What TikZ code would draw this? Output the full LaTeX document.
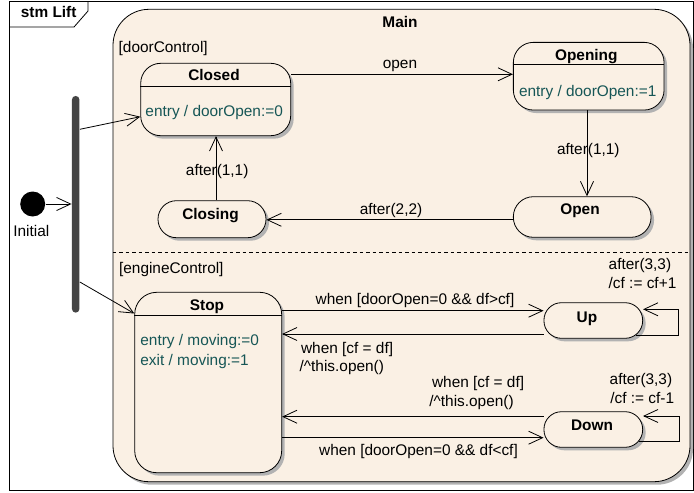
\documentclass[tikz,border=0pt]{standalone}
\usepackage{fontspec}
\setmainfont{Liberation Sans}
\usetikzlibrary{arrows.meta,shadows,calc}
\definecolor{cream}{RGB}{250,240,228}
\definecolor{tealtxt}{RGB}{22,86,86}
\definecolor{shade}{RGB}{178,178,178}
\definecolor{barcol}{RGB}{68,68,68}
\begin{document}
\begin{tikzpicture}[x=1pt,y=-1pt,
  font=\fontsize{15.4}{18}\selectfont,
  line width=0.8pt,
  >={Straight Barb[length=14pt,width=13pt,line width=0.8pt]},
  shad/.style={drop shadow={shadow xshift=3pt,shadow yshift=-3pt,fill=shade,opacity=1}},
  region/.style={draw,fill=cream,inner sep=0,shad},
  statebox/.style={draw,fill=cream,inner sep=0,shad},
  lbl/.style={inner sep=0,anchor=base},
  lblw/.style={inner sep=0,anchor=base west},
  ttl/.style={inner sep=0,anchor=base,font=\fontsize{15.4}{18}\selectfont\bfseries},
  act/.style={inner sep=0,text=tealtxt},
  conn/.style={->}
]
\useasboundingbox (0,0) rectangle (694,493);
% frame
\draw[line width=0.9pt] (9.5,1.3) rectangle (693,490.7);
\draw (9.5,27) -- (74,27) -- (88,11) -- (88,1.3);
\node[ttl] (frametitle) at (48.7,17.5) {stm Lift};

% Main region
\node[region,rounded corners=36pt,minimum width=577pt,minimum height=472.4pt] (main) at (401.5,245.5) {};
\node[ttl] (maintitle) at (400,27) {Main};
\draw[dash pattern=on 3.5pt off 3pt] (main.west |- 0,252) -- (main.east |- 0,252);
\node[lblw] (rdoor) at (118.3,52.5) {[doorControl]};
\node[lblw] (reng) at (118.7,273.3) {[engineControl]};

% states
\node[statebox,rounded corners=20pt,minimum width=150pt,minimum height=72.4pt] (Closed) at (215.7,99.5) {};
\draw (Closed.west |- 0,86) -- (Closed.east |- 0,86);
\node[ttl] (tClosed) at (214,80.7) {Closed};
\node[act,anchor=base] (aClosed) at (214.2,116.7) {entry / doorOpen:=0};

\node[statebox,rounded corners=20pt,minimum width=150.7pt,minimum height=67.7pt] (Opening) at (588.7,76.2) {};
\draw (Opening.west |- 0,64.7) -- (Opening.east |- 0,64.7);
\node[ttl] (tOpening) at (586.3,60.7) {Opening};
\node[act,anchor=base] (aOpening) at (587.7,96) {entry / doorOpen:=1};

\node[statebox,rounded corners=20pt,minimum width=137.7pt,minimum height=40.6pt] (Open) at (582.2,217) {};
\node[ttl] (tOpen) at (580,214.3) {Open};

\node[statebox,rounded corners=18.4pt,minimum width=108pt,minimum height=37pt] (Closing) at (212,219.2) {};
\node[ttl] (tClosing) at (210.5,219.3) {Closing};

\node[statebox,rounded corners=22pt,minimum width=147pt,minimum height=180.4pt] (Stop) at (208.2,382.5) {};
\draw (Stop.west |- 0,315) -- (Stop.east |- 0,315);
\node[ttl] (tStop) at (207,310) {Stop};
\node[act,anchor=base west] (aStop1) at (140,345.7) {entry / moving:=0};
\node[act,anchor=base west] (aStop2) at (140,365) {exit / moving:=1};

\node[statebox,rounded corners=17.5pt,minimum width=98.7pt,minimum height=35.6pt] (Up) at (593.3,320.5) {};
\node[ttl] (tUp) at (587,322.7) {Up};

\node[statebox,rounded corners=17.5pt,minimum width=98.7pt,minimum height=35.6pt] (Down) at (593.3,429.5) {};
\node[ttl] (tDown) at (592,430) {Down};

% initial and fork
\node[circle,fill=black,minimum size=25pt,inner sep=0] (init) at (32.7,204) {};
\node[lbl] (tinit) at (31.3,236) {Initial};
\node[fill=barcol,rounded corners=3.7pt,minimum width=7.5pt,minimum height=216.7pt,inner sep=0] (fork) at (75.7,204.3) {};

% connectors
\draw[conn] (init.east) -- (fork.west |- init.east);
\draw[conn] (fork.east |- 0,129.3) -- (Closed.west |- 0,116.7);
\draw[conn] (fork.east |- 0,282) -- (Stop.west |- 0,313.5);

\draw[conn] (Closed.east |- 0,74.3) -- (Opening.west |- 0,74.3);
\node[lbl] (lopen) at (400,68) {open};

\draw[conn] (Opening.south -| 587,0) -- (Open.north -| 587,0);
\node[lbl] (lafter1) at (588.3,154.3) {after(1,1)};

\draw[conn] (Open.west |- 0,219.8) -- (Closing.east |- 0,219.8);
\node[lbl] (lafter2) at (391,214) {after(2,2)};

\draw[conn] (Closing.north -| 216,0) -- (Closed.south -| 216,0);
\node[lbl] (lafter3) at (217.2,175) {after(1,1)};

\draw[conn] (Stop.east |- 0,310.7) -- (Up.west |- 0,310.7);
\node[lbl] (lsu) at (415,304.3) {when [doorOpen=0 \&\& df>cf]};

\draw[conn] (Up.west |- 0,334) -- (Stop.east |- 0,334);
\node[lblw] (lus1) at (300.7,353.3) {when [cf = df]};
\node[lblw] (lus2) at (299.3,371.7) {/\textasciicircum this.open()};

\draw[conn] ($(Up.east |- 0,335)+(-7,0)$) -| (678.7,309.3) -- (Up.east |- 0,309.3);
\node[lblw] (luu1) at (608.3,269.8) {after(3,3)};
\node[lblw] (luu2) at (608.3,288.3) {/cf := cf+1};

\draw[conn] (Down.west |- 0,416.7) -- (Stop.east |- 0,416.7);
\node[lblw] (lds1) at (431.7,387.5) {when [cf = df]};
\node[lblw] (lds2) at (429,406) {/\textasciicircum this.open()};

\draw[conn] (Stop.east |- 0,437.7) -- (Down.west |- 0,437.7);
\node[lbl] (lsd) at (418.5,455) {when [doorOpen=0 \&\& df<cf]};

\draw[conn] ($(Down.east |- 0,441)+(-4.5,0)$) -| (679.3,416) -- (Down.east |- 0,416);
\node[lblw] (ldd1) at (609.3,384) {after(3,3)};
\node[lblw] (ldd2) at (610,403.3) {/cf := cf-1};
\end{tikzpicture}
\end{document}
